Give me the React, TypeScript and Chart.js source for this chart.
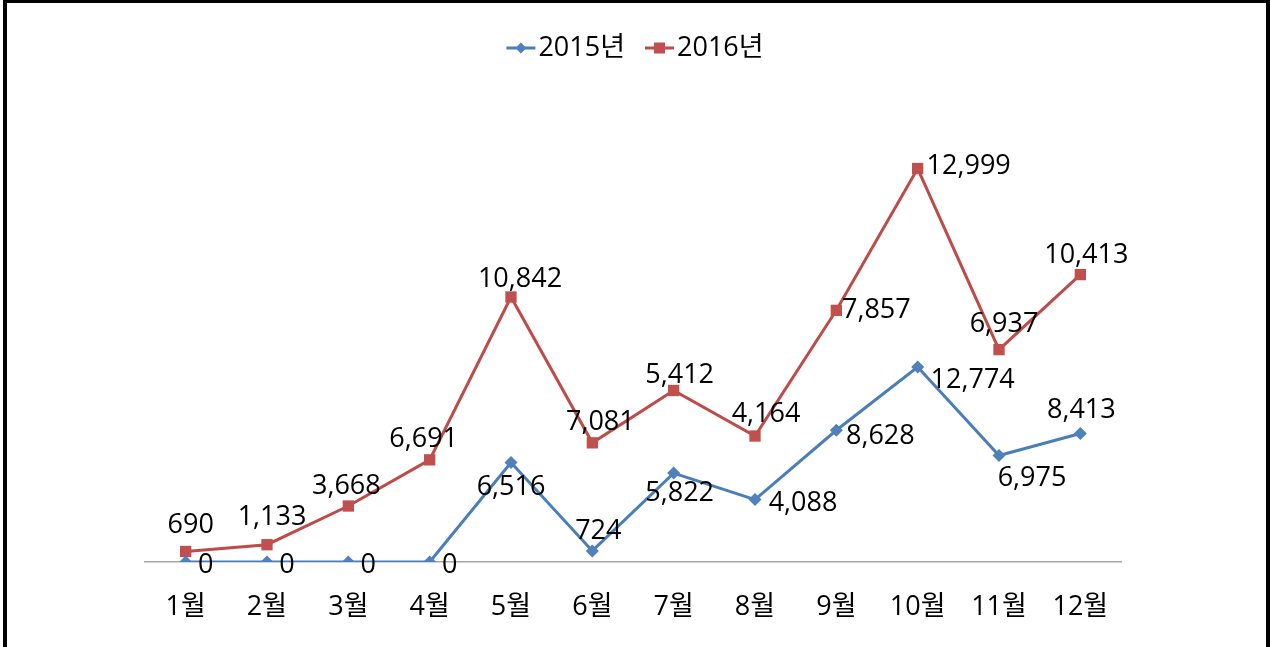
import React, { useEffect, useRef } from "react";
import { Chart, registerables } from "chart.js";

Chart.register(...registerables);

const months = ["1월", "2월", "3월", "4월", "5월", "6월", "7월", "8월", "9월", "10월", "11월", "12월"];
const series2015 = [0, 0, 0, 0, 6516, 724, 5822, 4088, 8628, 12774, 6975, 8413];
const series2016 = [690, 1133, 3668, 6691, 10842, 7081, 5412, 4164, 7857, 12999, 6937, 10413];
const seriesNames = ["2015년", "2016년"];

// label offsets (style only)
const dx2015 = [20, 20, 20, 20, 0, 6, 6, 48, 44, 55, 33, 1];
const dy2015 = [3, 3, 3, 3, 25, -20, 20, 4, 6, 13, 23, -23];
const dx2016 = [5, 5, -2, -6, 9, 8, 6, 11, 40, 51, 5, 6];
const dy2016 = [-26, -27, -20, -21, -18, -21, -15, -22, 0, -2, -25, -19];

const FONT = '"Open Sans", "Noto Sans CJK KR", sans-serif';
const FONT_SIZE = 27;
const BLUE_LINE = "#4A7EBB";
const BLUE_MARK = "#4F81BD";
const RED_LINE = "#BE4B48";
const RED_MARK = "#C0504D";

const labelPlugin = {
  id: "customLabels",
  afterDatasetsDraw(chart: any) {
    const ctx = chart.ctx;
    ctx.save();
    ctx.font = `${FONT_SIZE}px ${FONT}`;
    ctx.fillStyle = "#000";
    ctx.textAlign = "center";
    ctx.textBaseline = "middle";
    const offs = [
      [dx2015, dy2015],
      [dx2016, dy2016],
    ];
    chart.data.datasets.forEach((ds: any, di: number) => {
      const meta = chart.getDatasetMeta(di);
      meta.data.forEach((pt: any, i: number) => {
        const v = ds.data[i];
        const txt = v.toLocaleString("en-US");
        ctx.fillText(txt, pt.x + offs[di][0][i], pt.y + offs[di][1][i]);
      });
    });
    ctx.restore();
  },
  afterDraw(chart: any) {
    // legend
    const ctx = chart.ctx;
    ctx.save();
    ctx.font = `${FONT_SIZE}px ${FONT}`;
    const lineLen = 29;
    const gapText = 3;
    const gapItem = 20;
    const items = [
      { text: seriesNames[0], line: BLUE_LINE, mark: BLUE_MARK, style: "diamond" },
      { text: seriesNames[1], line: RED_LINE, mark: RED_MARK, style: "square" },
    ];
    const widths = items.map((it) => lineLen + gapText + ctx.measureText(it.text).width);
    const total = widths.reduce((a, b) => a + b, 0) + gapItem;
    let x = chart.width / 2 - total / 2;
    const y = 48;
    items.forEach((it, i) => {
      ctx.strokeStyle = it.line;
      ctx.lineWidth = 3;
      ctx.beginPath();
      ctx.moveTo(x, y);
      ctx.lineTo(x + lineLen, y);
      ctx.stroke();
      ctx.fillStyle = it.mark;
      const cx = x + lineLen / 2;
      if (it.style === "diamond") {
        ctx.beginPath();
        ctx.moveTo(cx, y - 5.5);
        ctx.lineTo(cx + 5.5, y);
        ctx.lineTo(cx, y + 5.5);
        ctx.lineTo(cx - 5.5, y);
        ctx.closePath();
        ctx.fill();
      } else {
        ctx.fillRect(cx - 5.5, y - 5.5, 11, 11);
      }
      ctx.fillStyle = "#000";
      ctx.textAlign = "left";
      ctx.textBaseline = "middle";
      ctx.fillText(it.text, x + lineLen + gapText, y);
      x += widths[i] + gapItem;
    });
    ctx.restore();
  },
};

export default function App() {
  const ref = useRef<HTMLCanvasElement | null>(null);
  useEffect(() => {
    document.body.style.margin = "0";
    const chart = new Chart(ref.current as HTMLCanvasElement, {
      type: "line",
      data: {
        labels: months,
        datasets: [
          {
            label: seriesNames[0],
            data: series2015,
            borderColor: BLUE_LINE,
            backgroundColor: BLUE_MARK,
            borderWidth: 3,
            pointStyle: "rectRot",
            pointRadius: 6.5,
            pointBorderWidth: 0,
            pointBackgroundColor: BLUE_MARK,
            fill: false,
            tension: 0,
          },
          {
            label: seriesNames[1],
            data: series2016,
            borderColor: RED_LINE,
            backgroundColor: RED_MARK,
            borderWidth: 3,
            pointStyle: "rect",
            pointRadius: 8,
            pointBorderWidth: 0,
            pointBackgroundColor: RED_MARK,
            fill: false,
            tension: 0,
          },
        ],
      },
      options: {
        responsive: false,
        animation: false,
        layout: { padding: { left: 145, right: 149, top: 104, bottom: 0 } },
        plugins: {
          legend: { display: false },
          tooltip: { enabled: false },
          title: { display: false },
        },
        scales: {
          x: {
            offset: true,
            grid: { display: false, drawTicks: false },
            border: { display: true, color: "#a6a6a6", width: 1.5 },
            ticks: {
              color: "#000",
              font: { family: FONT, size: FONT_SIZE },
              padding: 29,
            },
            afterFit: (scale: any) => {
              scale.height = 85;
            },
          },
          y: {
            display: false,
            stacked: true,
            min: 0,
            max: 30000,
          },
        },
      },
      plugins: [labelPlugin],
    });
    return () => chart.destroy();
  }, []);
  return (
    <div
      style={{
        position: "fixed",
        left: 0,
        top: 0,
        width: 1270,
        height: 647,
        overflow: "hidden",
        background: "#fff",
      }}
    >
      <canvas
        ref={ref}
        width={1270}
        height={647}
        style={{ position: "absolute", left: 0, top: 0, width: 1270, height: 647 }}
      />
      <div
        style={{
          position: "absolute",
          left: 3,
          top: -1,
          width: 1267,
          height: 670,
          border: "4px solid #000",
          boxSizing: "border-box",
        }}
      />
    </div>
  );
}
